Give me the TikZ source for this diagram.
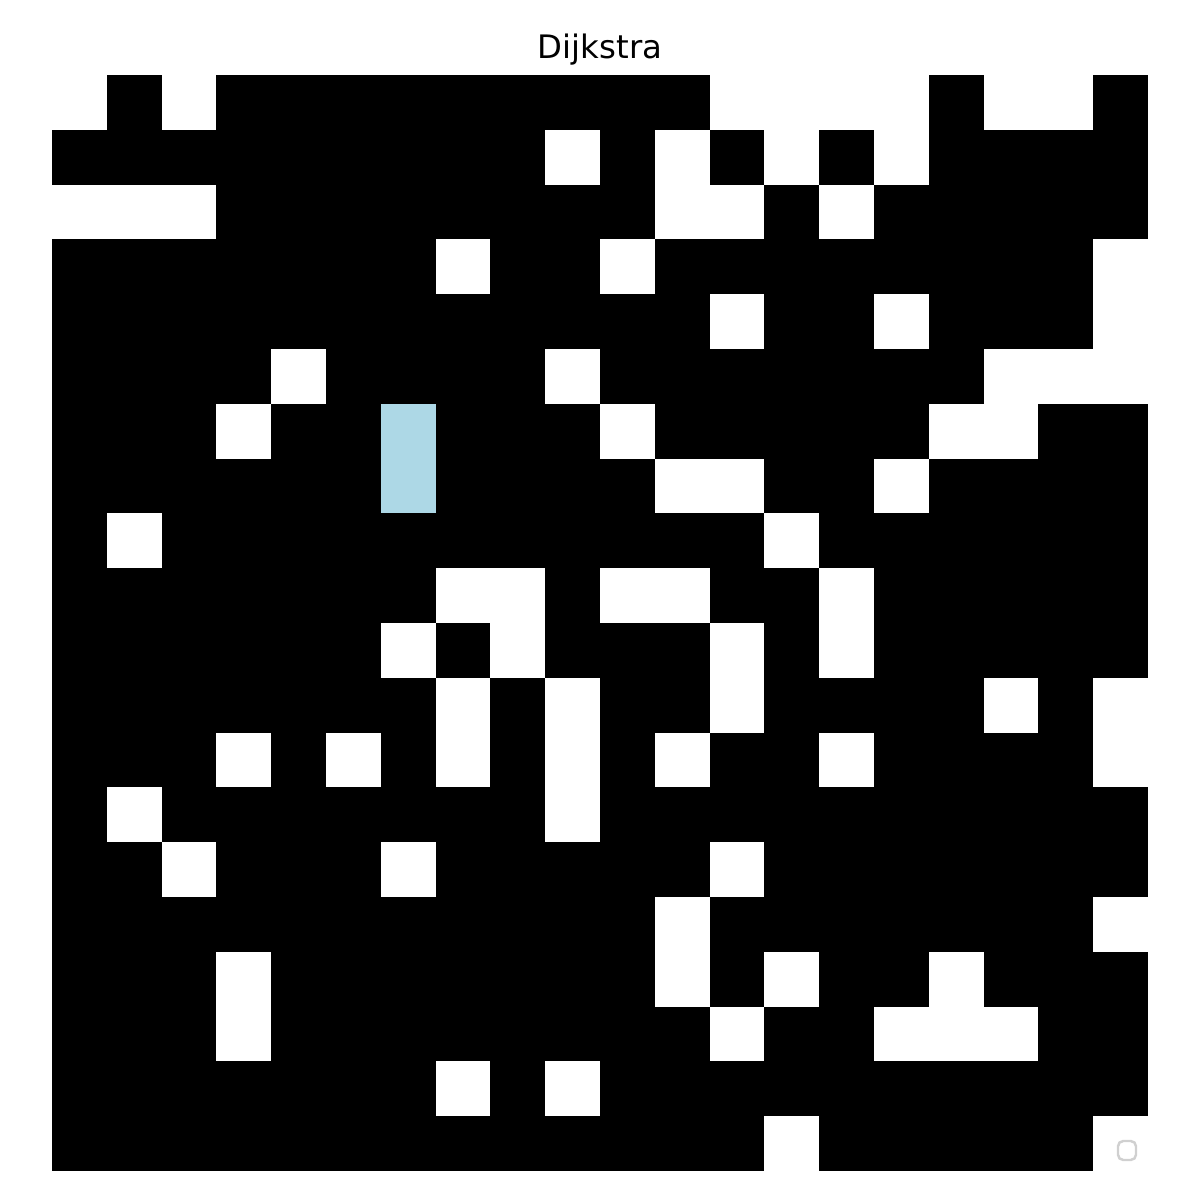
\documentclass[tikz,border=0pt]{standalone}
\usepackage{fontspec}
\setmainfont{DejaVu Sans}
\usetikzlibrary{calc}
\definecolor{pathblue}{HTML}{ADD8E6}
\definecolor{legendgray}{HTML}{D0D0D0}

\begin{document}
\begin{tikzpicture}[x=1cm,y=1cm,
  opencell/.style={fill=white},
  pathcell/.style={fill=pathblue}]
\def\cellsz{0.548}
\useasboundingbox[fill=white] (0,0) rectangle (12,12);
% grid: top-left corner at (0.52,11.25), 20x20 cells
\coordinate (gridtl) at (0.52,11.25);
\fill[black] (gridtl) rectangle ++(20*\cellsz,-20*\cellsz);
\foreach \r/\cs in {0/{0,2,12,13,14,15,17,18},1/{9,11,13,15},2/{0,1,2,11,12,14},
  3/{7,10,19},4/{12,15,19},5/{4,9,17,18,19},6/{3,10,16,17},7/{11,12,15},
  8/{1,13},9/{7,8,10,11,14},10/{6,8,12,14},11/{7,9,12,17,19},
  12/{3,5,7,9,11,14,19},13/{1,9},14/{2,6,12},15/{11,19},16/{3,11,13,16},
  17/{3,12,15,16,17},18/{7,9},19/{13,19}}{
  \foreach \c in \cs
    \fill[opencell] ($(gridtl)+(\c*\cellsz,-\r*\cellsz)$) rectangle ++(\cellsz,-\cellsz);
}
% path found
\foreach \r in {6,7}
  \fill[pathcell] ($(gridtl)+(6*\cellsz,-\r*\cellsz)$) rectangle ++(\cellsz,-\cellsz);
\node[font=\fontsize{9.2}{11}\selectfont] (title) at (6,11.50) {Dijkstra};
% empty legend
\draw[legendgray,line width=0.7pt,rounded corners=1.5pt] (11.18,0.40) rectangle (11.36,0.59);
\end{tikzpicture}
\end{document}
